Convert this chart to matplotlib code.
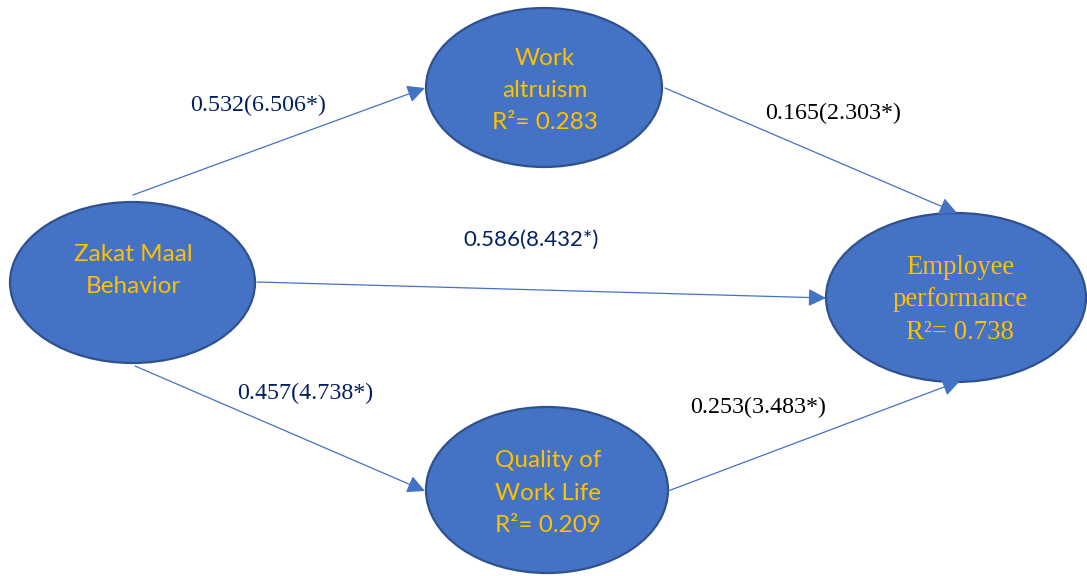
import matplotlib
matplotlib.use("Agg")
import matplotlib.pyplot as plt
from matplotlib.patches import Ellipse, FancyArrowPatch

# ---- data ----
node_names = ["Zakat Maal\nBehavior", "Work\naltruism", "Quality of\nWork Life",
              "Employee\nperformance"]
node_r2 = [None, 0.283, 0.209, 0.738]
node_serif = [False, False, False, True]

edge_from = [0, 1, 0, 0, 2]
edge_to = [1, 3, 3, 2, 3]
path_coef = [0.532, 0.165, 0.586, 0.457, 0.253]
t_values = [6.506, 2.303, 8.432, 4.738, 3.483]

# ---- layout (pixel coords, y downwards) ----
W, H = 1087, 576
node_xy = [(132.5, 282.5), (544, 87.5), (547, 490), (956, 297.5)]
node_size = [(245, 161), (236, 159), (242, 166), (260, 169)]

edge_start = [(133, 195), (665, 88), (257, 282), (135, 366), (668, 491)]
edge_end = [(425, 88), (957, 213), (826, 298), (425, 491), (960, 381)]

label_xy = [(258, 105), (833, 113), (531, 240), (305, 393), (758, 407)]
label_color = ["#002060", "black", "#002060", "#002060", "black"]
label_serif = [True, True, False, True, True]

FILL = "#4472C4"
EDGE = "#2F528F"
GOLD = "#FFC000"

fig = plt.figure(figsize=(W / 100, H / 100), dpi=100)
ax = fig.add_axes([0, 0, 1, 1])
ax.set_xlim(0, W)
ax.set_ylim(H, 0)
ax.axis("off")

# nodes
for i, name in enumerate(node_names):
    x, y = node_xy[i]
    w, h = node_size[i]
    ax.add_patch(Ellipse((x, y), w, h, facecolor=FILL, edgecolor=EDGE,
                         linewidth=1.6, zorder=2))
    txt = name
    if node_r2[i] is not None:
        txt += f"\nR²= {node_r2[i]:.3f}"
    if node_serif[i]:
        ax.text(x + 4, y + 2.5, txt, ha="center", va="center", color=GOLD,
                fontsize=19.3, family="Liberation Serif", linespacing=1.41,
                zorder=4)
    else:
        ax.text(x + 1, y + (-12 if node_r2[i] is None else 3), txt,
                ha="center", va="center", color=GOLD, fontsize=17.5,
                family="Lato", linespacing=1.66, zorder=4)

# arrows
for k in range(len(edge_from)):
    arr = FancyArrowPatch(edge_start[k], edge_end[k],
                          arrowstyle="-|>,head_length=0.6,head_width=0.3",
                          mutation_scale=18, color=FILL, linewidth=0.9,
                          shrinkA=0, shrinkB=0, zorder=3)
    ax.add_patch(arr)

# path labels
for k in range(len(path_coef)):
    lab = f"{path_coef[k]:.3f}({t_values[k]:.3f}*)"
    fam = "Liberation Serif" if label_serif[k] else "Lato"
    fs = 17.3 if label_serif[k] else 16
    ax.text(label_xy[k][0], label_xy[k][1], lab, ha="center", va="center",
            color=label_color[k], fontsize=fs, family=fam)

fig.savefig("out.png", dpi=100)
